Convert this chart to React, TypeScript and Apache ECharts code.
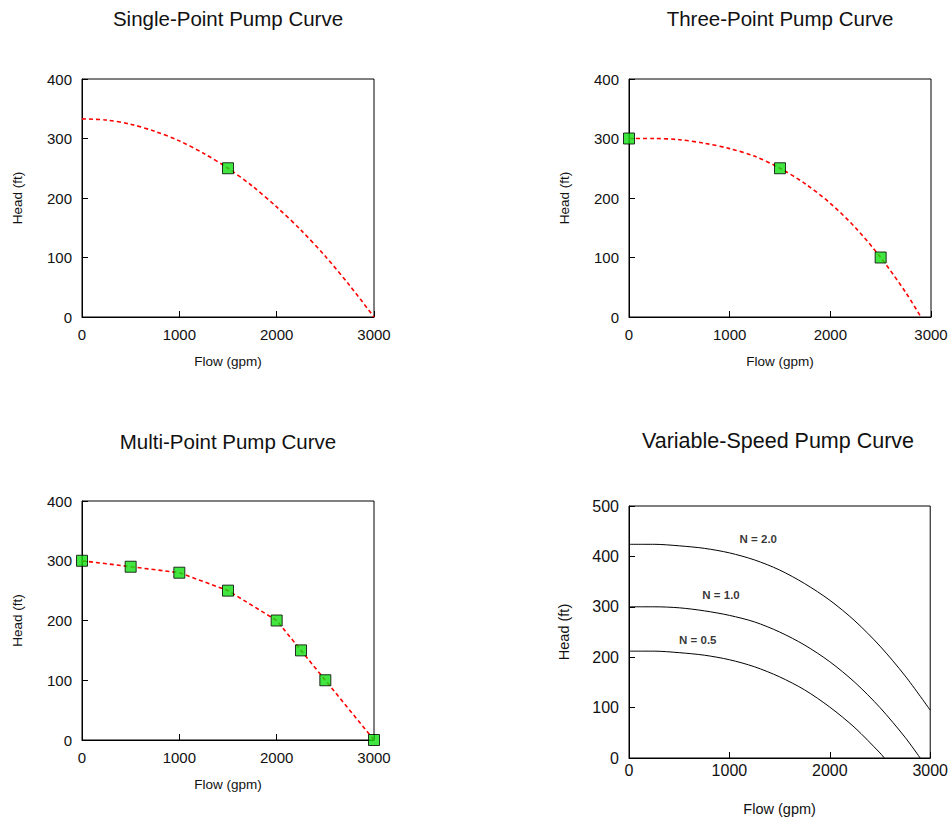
import React, { useEffect, useRef } from 'react';
import * as echarts from 'echarts';

const titles = ['Single-Point Pump Curve', 'Three-Point Pump Curve', 'Multi-Point Pump Curve', 'Variable-Speed Pump Curve'];
const xName = 'Flow (gpm)';
const yName = 'Head (ft)';

// Single-point
const singlePoints = [[1500, 250]];
const singleCurve = [
  [0, 333], [250, 331], [500, 324], [750, 312], [1000, 296], [1250, 275], [1500, 250],
  [1750, 220], [2000, 185], [2250, 146], [2500, 102], [2750, 53], [3000, 0],
];

// Three-point
const threePoints = [[0, 300], [1500, 250], [2500, 100]];
const threeCurve = [
  [0, 300], [250, 300], [500, 298], [750, 292], [1000, 283], [1250, 270], [1500, 250],
  [1750, 224], [2000, 191], [2250, 150], [2500, 100], [2750, 41], [2900, 0],
];

// Multi-point
const multiPoints = [[0, 300], [500, 290], [1000, 280], [1500, 250], [2000, 200], [2250, 150], [2500, 100], [3000, 0]];

// Variable speed
const speed20 = [
  [0, 424], [250, 424], [500, 421], [750, 416], [1000, 407], [1250, 393], [1500, 373],
  [1750, 346], [2000, 313], [2250, 272], [2500, 222], [2750, 163], [3000, 95],
];
const speed10 = threeCurve;
const speed05 = [
  [0, 212], [250, 212], [500, 209], [750, 204], [1000, 195], [1250, 181], [1500, 161],
  [1750, 135], [2000, 101], [2250, 60], [2500, 10], [2543, 0],
];
const speedLabels = [[1288, 434, 'N = 2.0'], [917, 323, 'N = 1.0'], [685, 234, 'N = 0.5']];

const FONT = 'Liberation Sans, Arial, Helvetica, sans-serif';

export default function App() {
  const ref = useRef<HTMLDivElement>(null);
  useEffect(() => {
    if (!ref.current) return;
    const chart = echarts.init(ref.current, undefined, { renderer: 'svg' });

    const grids = [
      { left: 82, top: 79, width: 292, height: 238 },
      { left: 629, top: 79, width: 302, height: 238 },
      { left: 82, top: 501, width: 292, height: 239 },
      { left: 629, top: 506, width: 302, height: 252 },
    ].map((g) => ({ ...g, show: true, borderColor: '#000', borderWidth: 1, backgroundColor: 'transparent' }));

    const titleCenters = [[228, 8], [780, 8], [228, 431], [778, 430]];
    const title = titles.map((t, i) => ({
      text: t,
      left: titleCenters[i][0],
      top: titleCenters[i][1],
      textAlign: 'center',
      padding: 0,
      textStyle: { fontFamily: FONT, fontWeight: 'normal', fontSize: i === 3 ? 21.5 : 20.5, color: '#111' },
    }));

    const mkX = (i: number) => {
      const big = i === 3;
      return {
        type: 'value',
        gridIndex: i,
        min: 0,
        max: 3000,
        interval: 1000,
        name: xName,
        nameLocation: 'middle',
        nameGap: big ? 43 : 37,
        nameTextStyle: { fontFamily: FONT, fontSize: big ? 14.5 : 13.5, color: '#111' },
        axisLine: { show: true, lineStyle: { color: '#000', width: 1 } },
        axisTick: { show: true, inside: true, length: 6, lineStyle: { color: '#000' } },
        axisLabel: {
          fontFamily: FONT, fontSize: big ? 16 : 15, color: '#111', margin: big ? 4 : 10,
          formatter: (v: number) => String(v),
        },
        splitLine: { show: false },
      };
    };
    const mkY = (i: number) => {
      const big = i === 3;
      return {
        type: 'value',
        gridIndex: i,
        min: 0,
        max: big ? 500 : 400,
        interval: 100,
        name: yName,
        nameLocation: 'middle',
        nameGap: 58,
        nameTextStyle: { fontFamily: FONT, fontSize: big ? 14.5 : 13.5, color: '#111' },
        axisLine: { show: true, lineStyle: { color: '#000', width: 1 } },
        axisTick: { show: true, inside: true, length: 6, lineStyle: { color: '#000' } },
        axisLabel: { fontFamily: FONT, fontSize: big ? 16 : 15, color: '#111', margin: 10, formatter: (v: number) => String(v) },
        splitLine: { show: false },
      };
    };

    const redDash = { color: '#ff0000', width: 1.6, type: [4, 3] };
    const marker = {
      type: 'scatter',
      symbol: 'rect',
      symbolSize: 11,
      itemStyle: { color: '#11e011', borderColor: '#000', borderWidth: 1 },
      z: 5,
    };
    const curve = (i: number, data: number[][], lineStyle: any) => ({
      type: 'line',
      xAxisIndex: i,
      yAxisIndex: i,
      data,
      smooth: 0.3,
      showSymbol: false,
      symbol: 'none',
      lineStyle,
      z: 3,
    });

    const option: any = {
      animation: false,
      backgroundColor: '#fff',
      title,
      grid: grids,
      xAxis: [0, 1, 2, 3].map(mkX),
      yAxis: [0, 1, 2, 3].map(mkY),
      series: [
        curve(0, singleCurve, redDash),
        { ...marker, xAxisIndex: 0, yAxisIndex: 0, data: singlePoints },
        curve(1, threeCurve, redDash),
        { ...marker, xAxisIndex: 1, yAxisIndex: 1, data: threePoints },
        { ...curve(2, multiPoints, redDash), smooth: false },
        { ...marker, xAxisIndex: 2, yAxisIndex: 2, data: multiPoints },
        curve(3, speed20, { color: '#000', width: 1 }),
        curve(3, speed10, { color: '#000', width: 1 }),
        curve(3, speed05, { color: '#000', width: 1 }),
        {
          type: 'scatter',
          xAxisIndex: 3,
          yAxisIndex: 3,
          data: speedLabels,
          symbolSize: 1,
          itemStyle: { color: 'rgba(0,0,0,0)' },
          label: {
            show: true,
            position: 'inside',
            formatter: (p: any) => p.data[2],
            fontFamily: FONT,
            fontWeight: 'bold',
            fontSize: 11.5,
            color: '#000',
          },
          z: 6,
        },
      ],
    };
    chart.setOption(option);
    return () => chart.dispose();
  }, []);
  return <div ref={ref} style={{ position: 'fixed', left: 0, top: 0, width: 951, height: 817, background: '#fff' }} />;
}
